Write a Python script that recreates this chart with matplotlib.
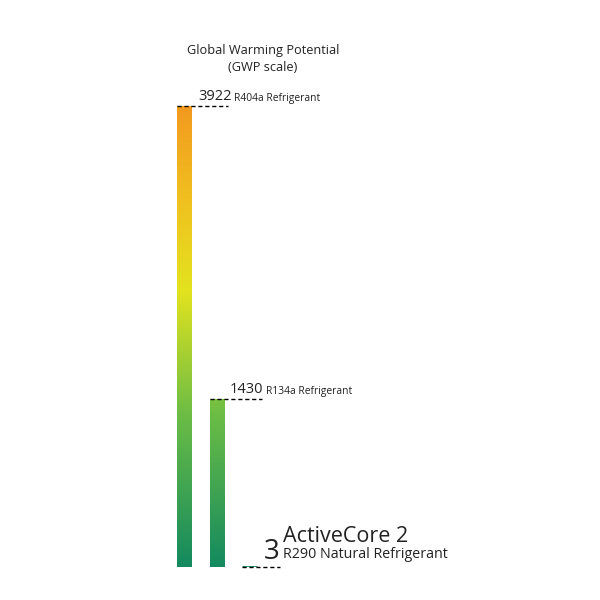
import numpy as np
import matplotlib
matplotlib.use("Agg")
import matplotlib.pyplot as plt
from matplotlib.colors import LinearSegmentedColormap

# GWP values
refrigerants = ["R404a Refrigerant", "R134a Refrigerant", "R290 Natural Refrigerant"]
gwp = [3922, 1430, 3]
products = ["", "", "ActiveCore 2"]

plt.rcParams['font.family'] = ['Open Sans', 'DejaVu Sans']

fig = plt.figure(figsize=(6, 6), dpi=100)
# axes cover the full width, bottom of bars at y=567px, tallest top at y=106px
ax = fig.add_axes([0, 1 - 567 / 600, 1, 461 / 600])
ax.axis('off')

cmap = LinearSegmentedColormap.from_list(
    "gwp", [(0.0, "#138a5f"), (0.33, "#6cbd45"), (0.6, "#e3e31e"),
            (0.8, "#f0c020"), (1.0, "#f39a1f")])
grad = np.linspace(0, 1, 256).reshape(-1, 1)

w = 15 / 32.5
x = np.arange(len(gwp))
bars = ax.bar(x, gwp, width=w, color='none', linewidth=0)
for b in bars:
    x0 = b.get_x()
    im = ax.imshow(grad, extent=(x0, x0 + w, 0, max(gwp)), aspect='auto',
                   cmap=cmap, origin='lower', zorder=2)
    im.set_clip_path(b)
# the tiny R290 bar needs a visible stroke
ax.bar(x[2], gwp[2], width=w, color="#138a5f", edgecolor="#138a5f",
       linewidth=2, zorder=3)
ax.set_xlim(-184.5 / 32.5, (600 - 184.5) / 32.5)
ax.set_ylim(0, max(gwp))

# dashed leaders (length in bar units) and number offsets in px
dash_end = [(228 - 184.5) / 32.5, (262 - 217) / 32.5, (280 - 250) / 32.5]
num_dx = [13.5, 13, 14]
px = 0.72
for i, v in enumerate(gwp):
    ax.plot([x[i] - w / 2, x[i] + dash_end[i]], [v, v], color='black',
            linestyle=(0, (3, 2)), linewidth=1, zorder=4, clip_on=False)

# top two labels
for i in range(2):
    t = ax.annotate(str(gwp[i]), (x[i], gwp[i]),
                    xytext=(num_dx[i] * px, 2 * px), textcoords='offset points',
                    fontsize=10.5, ha='left', va='bottom', color='#222222')
    ax.annotate(refrigerants[i], (1, 0), xycoords=t,
                xytext=(3 * px, 0), textcoords='offset points',
                fontsize=7.4, ha='left', va='bottom', color='#222222')

# ActiveCore label
t3 = ax.annotate(str(gwp[2]), (x[2], gwp[2]),
                 xytext=(num_dx[2] * px, 1 * px), textcoords='offset points',
                 fontsize=20, ha='left', va='bottom', color='#222222')
ax.annotate(refrigerants[2], (1, 0), xycoords=t3,
            xytext=(4 * px, 4 * px), textcoords='offset points',
            fontsize=10.3, ha='left', va='bottom', color='#222222')
ax.annotate(products[2], (1, 0), xycoords=t3,
            xytext=(4 * px, 19 * px), textcoords='offset points',
            fontsize=15.5, ha='left', va='bottom', color='#222222')

fig.text(263 / 600, 1 - 59 / 600, "Global Warming Potential\n(GWP scale)",
         ha='center', va='center', fontsize=9.2, color='#222222',
         linespacing=1.45)

fig.savefig("out.png", dpi=100, facecolor='white')
